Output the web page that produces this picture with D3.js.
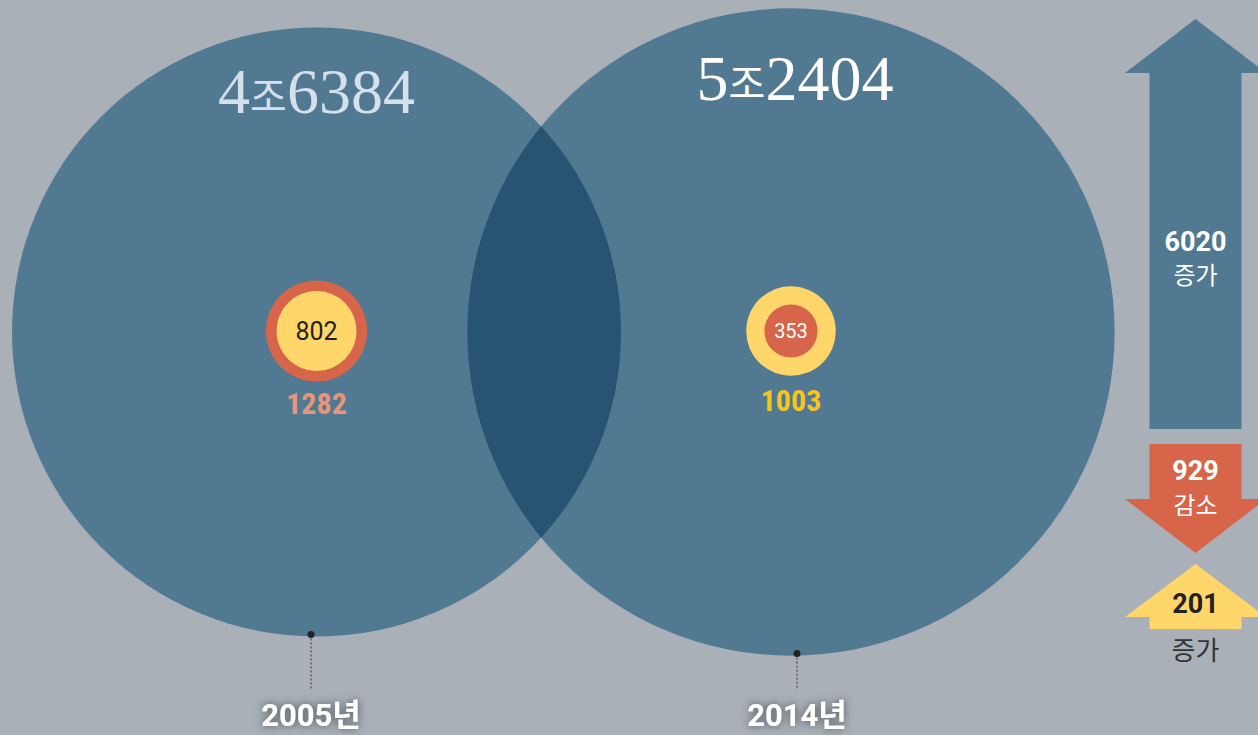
<!DOCTYPE html>
<html><head><meta charset="utf-8">
<script src="https://cdn.jsdelivr.net/npm/d3@7"></script>
<style>
html,body{margin:0;padding:0;background:#a9b0b8;}
svg{display:block;}
</style></head>
<body>
<svg id="chart" width="1258" height="735"></svg>
<script>
// ---- data ----
const years = ["2005년", "2014년"];
const totals = [46384, 52404];
const totalMajor = ["4", "5"];
const totalMinor = ["6384", "2404"];
const ringOuter = [1282, 1003];
const ringInner = [802, 353];
const changeValues = [6020, 929, 201];
const changeLabels = ["증가", "감소", "증가"];

// ---- layout ----
const W = 1258, H = 735;
const svg = d3.select("#chart");
const bg = "#a9b0b8", circleFill = "#527992", overlapFill = "#265472";
const red = "#d6654a", yellow = "#ffd66a";

const r = d3.scaleSqrt().domain([0, totals[0]]).range([0, 304.5]);
const cx = d3.scaleOrdinal().domain(years).range([316.5, 791]);
const cy = 332;
const labelX = d3.scaleOrdinal().domain(years).range([311, 797]);

svg.append("rect").attr("width", W).attr("height", H).attr("fill", bg);

const defs = svg.append("defs");
defs.append("clipPath").attr("id", "clipLeft")
  .append("circle").attr("cx", cx(years[0])).attr("cy", cy).attr("r", r(totals[0]));
const f = defs.append("filter").attr("id", "shadow").attr("x", "-30%").attr("y", "-60%").attr("width", "160%").attr("height", "220%");
f.append("feDropShadow").attr("dx", 0).attr("dy", 0).attr("stdDeviation", 4).attr("flood-color", "#3a3f46").attr("flood-opacity", 0.9);

// big circles
svg.selectAll("circle.big").data(years).join("circle")
  .attr("class", "big")
  .attr("cx", d => cx(d)).attr("cy", cy)
  .attr("r", (d, i) => r(totals[i]))
  .attr("fill", circleFill);

// overlap lens
svg.append("circle")
  .attr("cx", cx(years[1])).attr("cy", cy).attr("r", r(totals[1]))
  .attr("clip-path", "url(#clipLeft)")
  .attr("fill", overlapFill);

// total labels
const tot = svg.selectAll("text.total").data(years).join("text")
  .attr("class", "total")
  .attr("x", d => cx(d) + (d === years[1] ? 4 : 0))
  .attr("y", (d, i) => i === 0 ? 113 : 100)
  .attr("text-anchor", "middle")
  .attr("fill", (d, i) => i === 0 ? "#d4e0ea" : "#ffffff");
tot.append("tspan").attr("font-family", "Liberation Serif, serif").attr("font-size", 64)
  .text((d, i) => totalMajor[i]);
tot.append("tspan").attr("font-family", "Noto Sans CJK KR, sans-serif").attr("font-size", 40)
  .attr("dx", 0).attr("dy", -2).text("조");
tot.append("tspan").attr("font-family", "Liberation Serif, serif").attr("font-size", 64)
  .attr("dx", 0).attr("dy", 2).text((d, i) => totalMinor[i]);

// ring circles
const ringOuterFill = [red, yellow];
const ringInnerFill = [yellow, red];
svg.selectAll("circle.ro").data(years).join("circle")
  .attr("class", "ro")
  .attr("cx", d => cx(d)).attr("cy", cy - 1)
  .attr("r", (d, i) => r(ringOuter[i]))
  .attr("fill", (d, i) => ringOuterFill[i]);
svg.selectAll("circle.ri").data(years).join("circle")
  .attr("class", "ri")
  .attr("cx", d => cx(d)).attr("cy", cy - 1)
  .attr("r", (d, i) => r(ringInner[i]))
  .attr("fill", (d, i) => ringInnerFill[i]);

svg.selectAll("text.ri").data(years).join("text")
  .attr("class", "ri")
  .attr("x", d => cx(d)).attr("y", cy - 1)
  .attr("dy", "0.36em")
  .attr("text-anchor", "middle")
  .attr("font-family", "Roboto, sans-serif")
  .attr("font-size", (d, i) => i === 0 ? 25 : 20)
  .attr("fill", (d, i) => i === 0 ? "#222222" : "#ffffff")
  .text((d, i) => ringInner[i]);

svg.selectAll("text.ro").data(years).join("text")
  .attr("class", "ro")
  .attr("x", d => cx(d)).attr("y", (d, i) => i === 0 ? 414 : 411)
  .attr("text-anchor", "middle")
  .attr("font-family", "Roboto Condensed, Roboto, sans-serif")
  .attr("font-weight", "bold")
  .attr("font-size", 30)
  .attr("fill", (d, i) => i === 0 ? "#e9957c" : "#f7c51e")
  .text((d, i) => ringOuter[i]);

// year markers
years.forEach((y, i) => {
  const lx = labelX(y);
  const dx = lx - cx(y);
  const ey = cy + Math.sqrt(r(totals[i]) ** 2 - dx * dx) - 2;
  svg.append("line").attr("x1", lx).attr("x2", lx).attr("y1", ey).attr("y2", 690)
    .attr("stroke", "#333").attr("stroke-width", 1).attr("stroke-dasharray", "2,2");
  svg.append("circle").attr("cx", lx).attr("cy", ey).attr("r", 3.5).attr("fill", "#222");
  svg.append("text").attr("x", lx).attr("y", 726)
    .attr("text-anchor", "middle")
    .attr("font-family", "Roboto, Noto Sans CJK KR, sans-serif")
    .attr("font-weight", "bold").attr("font-size", 31)
    .attr("fill", "#ffffff").attr("filter", "url(#shadow)")
    .text(y);
});

// change arrows
const ax = 1195.5, shaftHalf = 46, headHalf = 70.5;
function upArrow(tip, headBase, bottom) {
  return `M${ax},${tip} L${ax + headHalf},${headBase} L${ax + shaftHalf},${headBase} L${ax + shaftHalf},${bottom} L${ax - shaftHalf},${bottom} L${ax - shaftHalf},${headBase} L${ax - headHalf},${headBase} Z`;
}
function downArrow(top, headBase, tip) {
  return `M${ax - shaftHalf},${top} L${ax + shaftHalf},${top} L${ax + shaftHalf},${headBase} L${ax + headHalf},${headBase} L${ax},${tip} L${ax - headHalf},${headBase} L${ax - shaftHalf},${headBase} Z`;
}
const arrows = [
  {d: upArrow(19, 73, 429), fill: circleFill, num: 241, lab: 275, numColor: "#fff", labColor: "#fff"},
  {d: downArrow(444, 499, 553), fill: red, num: 470, lab: 505, numColor: "#fff", labColor: "#fff"},
  {d: upArrow(564, 617, 629), fill: yellow, num: 603, lab: 651, numColor: "#222", labColor: "#333"}
];
arrows.forEach((a, i) => {
  svg.append("path").attr("d", a.d).attr("fill", a.fill);
  svg.append("text").attr("x", ax).attr("y", a.num).attr("dy", "0.36em")
    .attr("text-anchor", "middle").attr("font-family", "Roboto, sans-serif")
    .attr("font-weight", "bold").attr("font-size", 27).attr("fill", a.numColor)
    .text(changeValues[i]);
  svg.append("text").attr("x", ax).attr("y", a.lab).attr("dy", "0.36em")
    .attr("text-anchor", "middle").attr("font-family", "Noto Sans CJK KR, sans-serif")
    .attr("font-size", i === 2 ? 26 : 24).attr("fill", a.labColor)
    .text(changeLabels[i]);
});
</script>
</body></html>
